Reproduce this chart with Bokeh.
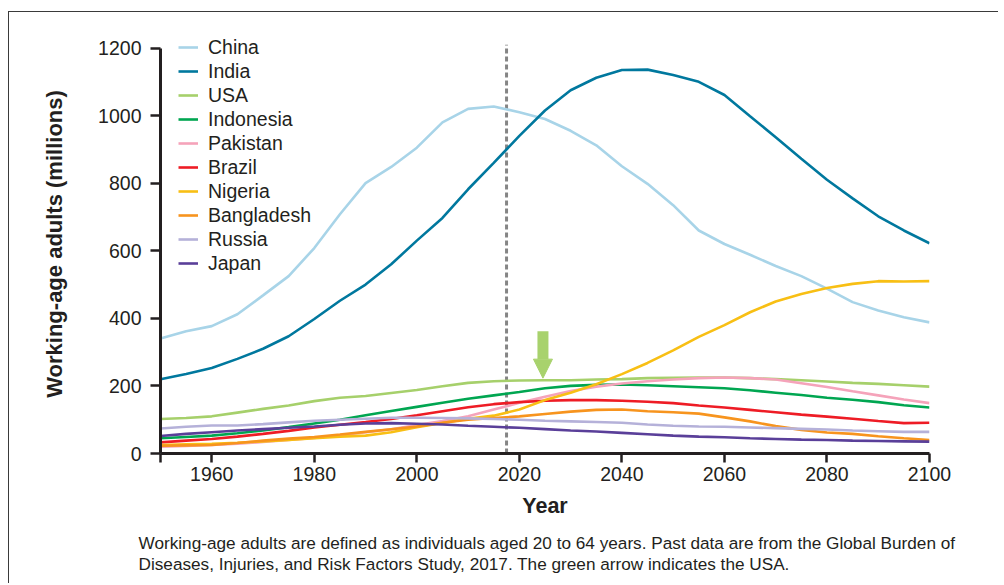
from bokeh.plotting import figure
from bokeh.models import (Range1d, FixedTicker, Legend, LegendItem, Arrow,
                          NormalHead, Title)
from bokeh.embed import file_html
from bokeh.resources import INLINE

# ---------------- data ----------------
years = [1950, 1955, 1960, 1965, 1970, 1975, 1980, 1985, 1990, 1995, 2000,
         2005, 2010, 2015, 2020, 2025, 2030, 2035, 2040, 2045, 2050, 2055,
         2060, 2065, 2070, 2075, 2080, 2085, 2090, 2095, 2100]

china = [340, 362, 377, 412, 468, 525, 608, 708, 800, 848, 905, 980, 1020, 1027,
         1010, 990, 955, 912, 850, 798, 735, 660, 620, 588, 555, 525, 488, 448,
         423, 403, 388]
india = [220, 235, 253, 280, 310, 347, 398, 452, 500, 560, 630, 697, 782, 860,
         940, 1015, 1075, 1112, 1135, 1136, 1120, 1100, 1061, 998, 936, 872, 810,
         755, 702, 660, 622]
usa = [102, 105, 110, 121, 132, 142, 155, 165, 170, 179, 188, 199, 209, 214, 216,
       217, 217, 219, 220, 223, 224, 225, 225, 223, 220, 217, 213, 209, 206, 202, 198]
indonesia = [45, 49, 53, 60, 68, 78, 89, 100, 113, 126, 138, 150, 162, 172, 182,
             193, 200, 203, 204, 202, 199, 196, 193, 187, 180, 173, 165, 159, 152,
             143, 136]
pakistan = [20, 22, 25, 29, 34, 40, 46, 54, 63, 72, 84, 96, 110, 130, 150, 168,
            185, 198, 207, 214, 219, 223, 225, 223, 219, 208, 197, 184, 172, 160, 149]
brazil = [33, 38, 43, 50, 58, 67, 77, 85, 93, 102, 113, 125, 137, 146, 152, 156,
          158, 158, 156, 153, 149, 142, 136, 129, 122, 115, 109, 103, 96, 90, 91]
nigeria = [25, 27, 29, 32, 36, 40, 45, 50, 53, 63, 78, 90, 103, 112, 130, 158, 180,
           205, 235, 268, 305, 345, 380, 418, 450, 472, 490, 502, 510, 509, 510]
bangladesh = [23, 24, 25, 31, 38, 44, 49, 56, 64, 72, 80, 91, 100, 105, 110, 117,
              124, 129, 130, 125, 122, 118, 107, 95, 81, 70, 62, 58, 51, 45, 40]
russia = [74, 79, 83, 83, 87, 92, 97, 100, 103, 106, 106, 105, 104, 102, 100, 97,
          95, 93, 91, 86, 82, 80, 79, 77, 75, 73, 71, 68, 66, 64, 64]
japan = [52, 58, 63, 68, 72, 76, 80, 85, 89, 90, 88, 86, 82, 79, 76, 72, 68, 65,
         61, 57, 53, 50, 48, 45, 43, 41, 40, 38, 37, 36, 35]

countries = ["China", "India", "USA", "Indonesia", "Pakistan", "Brazil",
             "Nigeria", "Bangladesh", "Russia", "Japan"]
series = [china, india, usa, indonesia, pakistan, brazil, nigeria, bangladesh,
          russia, japan]
colors = ["#a8d4e8", "#00789e", "#a6d06b", "#00a651", "#f5a3ba", "#ee1c25",
          "#f8bf14", "#f7941e", "#b5b1d9", "#5a3f99"]

x_ticks = [1950, 1960, 1980, 2000, 2020, 2040, 2060, 2080, 2100]
y_ticks = [0, 200, 400, 600, 800, 1000, 1200]
present_year = 2017.5
present_top = 1210
arrow_year = 2024.6
arrow_from, arrow_to = 362, 223

caption = ("Working-age adults are defined as individuals aged 20 to 64 years. "
           "Past data are from the Global Burden of\n"
           "Diseases, Injuries, and Risk Factors Study, 2017. "
           "The green arrow indicates the USA.")

FONT = "Liberation Sans"
TXT = "#231f20"

# ---------------- figure ----------------
p = figure(width=990, height=572, output_backend="svg", toolbar_location=None,
           x_range=Range1d(1950, 2100), y_range=Range1d(0, 1240),
           min_border_left=151, min_border_right=70, min_border_top=22,
           min_border_bottom=130)
p.margin = (11, 0, 0, 8)
p.styles = {"border-left": "1.5px solid #3a3a3a", "border-top": "1.5px solid #3a3a3a"}
p.outline_line_color = None
p.grid.visible = False
p.background_fill_color = "white"
p.border_fill_color = "white"

for ax in (p.xaxis[0], p.yaxis[0]):
    ax.axis_line_width = 3
    ax.axis_line_color = TXT
    ax.major_tick_line_width = 2.5
    ax.major_tick_line_color = TXT
    ax.major_tick_in = 0
    ax.major_tick_out = 9
    ax.minor_tick_line_color = None
    ax.major_label_text_font = FONT
    ax.major_label_text_font_size = "19.5px"
    ax.major_label_text_color = TXT
    ax.axis_label_text_font = FONT
    ax.axis_label_text_font_style = "bold"
    ax.axis_label_text_color = TXT

p.xaxis.ticker = FixedTicker(ticks=x_ticks)
p.xaxis.major_label_overrides = {1950: ""}
p.xaxis.major_label_standoff = 4
p.xaxis.axis_label = "Year"
p.xaxis.axis_label_text_font_size = "21.5px"
p.xaxis.axis_label_standoff = 10

p.yaxis.ticker = FixedTicker(ticks=y_ticks)
p.yaxis.bounds = (0, 1200)
p.yaxis.major_label_standoff = 9
p.yaxis.major_tick_out = 10
p.yaxis.axis_label = "Working-age adults (millions)"
p.yaxis.axis_label_text_font_size = "22px"
p.yaxis.axis_label_standoff = 28

# reference year
p.segment(x0=[present_year], y0=[0], x1=[present_year], y1=[present_top],
          line_color="#858585", line_width=3, line_dash="5 3")

items = []
for name, vals, col in zip(countries, series, colors):
    r = p.line(years, vals, line_color=col, line_width=2.6)
    items.append(LegendItem(label=name, renderers=[r]))

legend = Legend(items=items, location=(18, 178), label_text_font=FONT,
                label_text_font_size="19.5px", label_text_color=TXT,
                glyph_width=20, glyph_height=24, label_height=24,
                label_standoff=10, spacing=0, padding=0, margin=0,
                border_line_color=None, background_fill_alpha=0)
p.add_layout(legend)

green = "#a8d26d"
p.add_layout(Arrow(end=NormalHead(size=19, fill_color=green, line_color=green,
                                  line_width=1),
                   x_start=arrow_year, y_start=arrow_from,
                   x_end=arrow_year, y_end=arrow_to,
                   line_color=green, line_width=11))

# caption below the plot
p.add_layout(Title(text=caption, align="left", offset=-22, standoff=20.5,
                   text_font=FONT, text_font_size="17.2px", text_color=TXT,
                   text_font_style="normal", text_line_height=1.05), "below")

open("out.html", "w").write(file_html(p, INLINE))
